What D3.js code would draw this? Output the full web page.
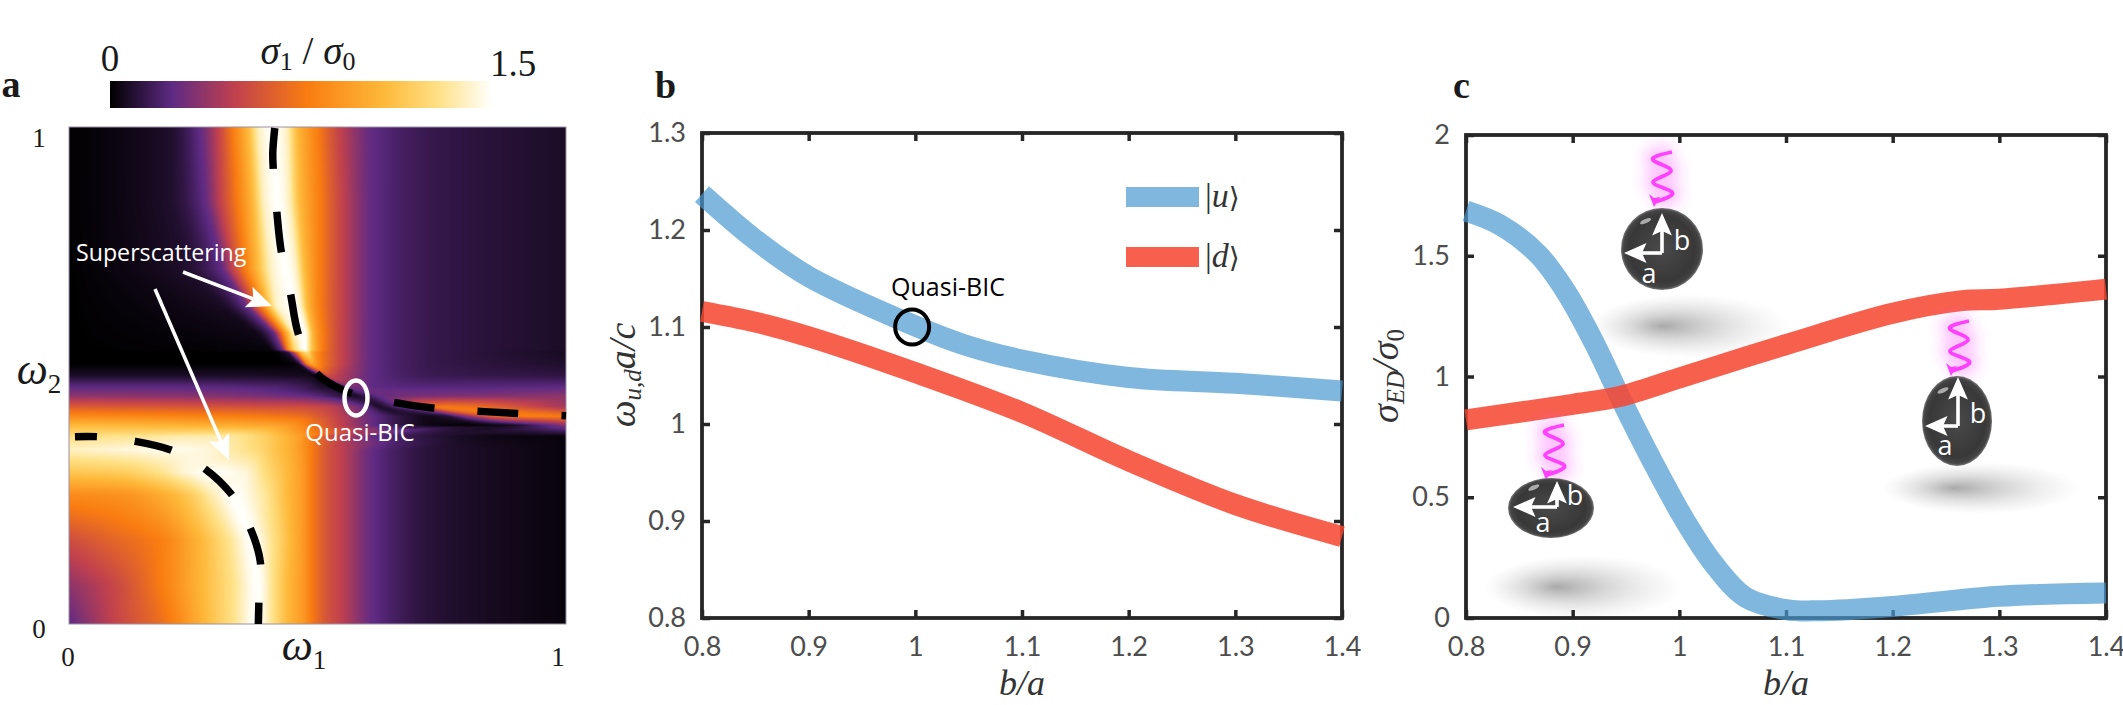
<!DOCTYPE html>
<html lang="en">
<head>
<meta charset="UTF-8">
<title>Quasi-BIC</title>
<script src="https://cdnjs.cloudflare.com/ajax/libs/d3/7.4.4/d3.min.js"></script>
<style>
    html, body { margin: 0; padding: 0; background: #fff; }
    svg { display: block; }
    .tick-text { font-family: Lato, "Open Sans", sans-serif; font-size: 27px; fill: #4d4d4d; }
    .serif { font-family: "Liberation Serif", serif; fill: #1a1a1a; }
    .math { font-family: "Liberation Serif", serif; font-style: italic; fill: #333; }
    .note { font-family: "Open Sans", sans-serif; }
</style>
</head>
<body>
<svg id="chart" width="2123" height="705"></svg>
<script>
// panel a: colour bar
var barDomain = [0, 0.243, 0.49, 0.775, 1.08, 1.29, 1.5];
var barColors = ['#000000', '#5e2a84', '#c0404e', '#f97c10', '#feb93a', '#ffe084', '#fffffb'];

// panel a: map values, row by row.
// each row has 15 knots: position on w1 and value there
var rowW2 = [1, .849, .713, .640, .586, .552, .546, .523, .5, .477, .459, .437, .418, .400, .378, .351, .305, .26, .169, .079, 0];
var knotW1 = [
    [0,.2,.26,.30,.33,.36,.385,.41,.435,.46,.50,.545,.617,.735,1],
    [0,.2,.27,.305,.34,.37,.395,.42,.44,.465,.505,.55,.617,.735,1],
    [0,.23,.305,.33,.355,.38,.41,.437,.455,.475,.505,.55,.617,.735,1],
    [0,.30,.354,.37,.386,.40,.42,.453,.465,.48,.505,.55,.617,.735,1],
    [0,.37,.41,.42,.43,.44,.453,.473,.48,.49,.51,.55,.617,.735,1],
    [0,.40,.427,.434,.44,.448,.457,.475,.483,.492,.51,.55,.617,.735,1],
    [0,.41,.44,.45,.46,.465,.47,.48,.486,.495,.51,.55,.617,.735,1],
    [0,.42,.455,.465,.47,.475,.48,.49,.497,.505,.52,.555,.617,.735,1],
    [0,.3,.48,.49,.497,.503,.51,.515,.52,.525,.53,.555,.617,.735,1],
    [0,.2,.4,.48,.51,.529,.54,.55,.56,.575,.59,.6,.617,.735,1],
    [0,.2,.3,.4,.47,.52,.555,.577,.59,.61,.63,.66,.70,.8,1],
    [0,.2,.3,.4,.47,.52,.56,.60,.624,.656,.68,.704,.72,.74,1],
    [0,.2,.3,.4,.47,.52,.56,.617,.68,.72,.76,.80,.855,.935,1],
    [0,.2,.3,.4,.44,.49,.545,.617,.68,.736,.80,.855,.895,.94,1],
    [0,.15,.25,.30,.35,.41,.44,.47,.49,.52,.545,.617,.735,.87,1],
    [0,.12,.2,.27,.33,.38,.41,.44,.47,.49,.52,.545,.617,.735,1],
    [0,.1,.18,.24,.28,.35,.40,.44,.47,.49,.52,.545,.617,.735,1],
    [0,.1,.18,.24,.29,.33,.39,.44,.47,.49,.52,.545,.617,.735,1],
    [0,.1,.18,.26,.32,.37,.41,.445,.47,.49,.52,.545,.617,.735,1],
    [0,.09,.18,.27,.33,.38,.41,.44,.47,.49,.52,.545,.617,.735,1],
    [0,.09,.195,.275,.33,.378,.41,.44,.47,.49,.52,.545,.617,.735,1]
];
var knotValue = [
    [0,.08,.24,.5,.78,1.08,1.42,1.5,1.42,1.08,.78,.5,.24,.14,.07],
    [0,.08,.24,.5,.78,1.08,1.42,1.5,1.42,1.08,.78,.5,.24,.14,.07],
    [0,.08,.24,.5,.78,1.08,1.42,1.5,1.42,1.08,.78,.5,.24,.14,.07],
    [0,.06,.24,.5,.78,1.08,1.42,1.5,1.42,1.08,.78,.5,.24,.14,.07],
    [0,.04,.24,.5,.78,1.08,1.4,1.5,1.4,1.08,.78,.5,.24,.14,.07],
    [0,.02,.24,.5,.78,1.08,1.3,1.5,1.3,1.08,.78,.5,.24,.14,.07],
    [0,0,.1,.4,.78,1,1.15,1.25,1.1,.9,.74,.5,.24,.14,.06],
    [0,0,.02,.1,.35,.6,.8,.95,.9,.8,.68,.47,.24,.14,.08],
    [.07,.07,.05,.03,.03,.1,.3,.45,.55,.55,.52,.42,.24,.15,.12],
    [.24,.24,.21,.15,.08,.06,.1,.18,.27,.3,.28,.26,.24,.22,.24],
    [.36,.35,.33,.3,.26,.18,.1,.07,.12,.2,.26,.28,.3,.32,.36],
    [.62,.6,.58,.56,.55,.5,.38,.22,.08,.2,.35,.55,.7,.76,.42],
    [.85,.82,.8,.76,.7,.56,.43,.24,.1,.05,.1,.35,.65,.78,.78],
    [1.08,1.05,1.02,.98,.92,.74,.5,.24,.1,.03,.01,.03,.06,.18,.35],
    [1.28,1.32,1.36,1.36,1.3,1.15,1.05,.92,.76,.58,.5,.24,.1,.03,.02],
    [1.4,1.45,1.48,1.45,1.35,1.25,1.15,1.05,.9,.76,.58,.5,.24,.1,.02],
    [1.15,1.18,1.3,1.45,1.5,1.45,1.25,1.08,.92,.76,.58,.5,.24,.1,.02],
    [.85,.88,1.0,1.16,1.38,1.5,1.35,1.08,.92,.76,.58,.5,.24,.1,.02],
    [.55,.68,.78,1.05,1.3,1.5,1.3,1.08,.92,.76,.58,.5,.24,.1,.02],
    [.36,.52,.76,1.08,1.3,1.5,1.3,1.08,.92,.76,.58,.5,.24,.1,.02],
    [.24,.5,.74,1.08,1.3,1.5,1.3,1.08,.92,.76,.58,.5,.24,.1,.02]
];

// panel a: dashed resonance curves
var upperW1 = [.414,.410,.411,.418,.427,.445,.461,.493,.553,.648,.727,.810,.894,1];
var upperW2 = [.998,.948,.916,.831,.750,.668,.585,.510,.470,.447,.435,.429,.424,.419];
var lowerW1 = [.012,.056,.131,.205,.271,.326,.363,.385,.382,.381];
var lowerW2 = [.377,.377,.368,.350,.314,.262,.197,.125,.043,0];

// panel b
var bTicksX = [0.8, 0.9, 1, 1.1, 1.2, 1.3, 1.4];
var bTicksY = [0.8, 0.9, 1, 1.1, 1.2, 1.3];
var bRatio = [0.8, 0.85, 0.9, 1, 1.045, 1.1, 1.2, 1.3, 1.4];
var upperMode = [1.237, 1.19, 1.152, 1.101, 1.082, 1.066, 1.048, 1.042, 1.034];
var dRatio = [0.8, 0.85, 0.9, 1, 1.1, 1.2, 1.3, 1.4];
var lowerMode = [1.116, 1.105, 1.09, 1.053, 1.012, 0.962, 0.917, 0.884];

// panel c
var cTicksX = [0.8, 0.9, 1, 1.1, 1.2, 1.3, 1.4];
var cTicksY = [0, 0.5, 1, 1.5, 2];
var cRatioU = [0.8, 0.833, 0.868, 0.894, 0.92, 0.95, 0.98, 1.006, 1.032, 1.062, 1.1, 1.131, 1.2, 1.3, 1.4];
var sigmaU = [1.685, 1.625, 1.504, 1.349, 1.141, 0.864, 0.605, 0.398, 0.225, 0.086, 0.035, 0.03, 0.048, 0.09, 0.104];
var cRatioD = [0.8, 0.9, 0.943, 1, 1.1, 1.2, 1.265, 1.3, 1.4];
var sigmaD = [0.82, 0.885, 0.916, 0.994, 1.132, 1.262, 1.314, 1.32, 1.362];

var blue = '#4a98d0', red = '#f7442f';
var svg = d3.select('#chart');
var defs = svg.append('defs');

// ---------- panel a ----------
var ax = d3.scaleLinear().domain([0, 1]).range([69, 566]);
var ay = d3.scaleLinear().domain([0, 1]).range([624, 127]);
var color = d3.scaleLinear().domain(barDomain).range(barColors).clamp(true);

// monotone cubic through the knots of one row, keeps the map free of kinks
function rowCurve(us, vs) {
    var n = us.length, s = [], m = [];
    for (var i = 0; i < n - 1; i++) s[i] = (vs[i + 1] - vs[i]) / Math.max(us[i + 1] - us[i], 1e-6);
    m[0] = s[0]; m[n - 1] = s[n - 2];
    for (i = 1; i < n - 1; i++) m[i] = s[i - 1] * s[i] <= 0 ? 0 : 2 * s[i - 1] * s[i] / (s[i - 1] + s[i]);
    return function(u) {
        var k = Math.min(d3.bisectRight(us, u) - 1, n - 2);
        k = Math.max(k, 0);
        var h = Math.max(us[k + 1] - us[k], 1e-6), t = (u - us[k]) / h, t2 = t * t, t3 = t2 * t;
        return (2 * t3 - 3 * t2 + 1) * vs[k] + (t3 - 2 * t2 + t) * h * m[k] + (3 * t2 - 2 * t3) * vs[k + 1] + (t3 - t2) * h * m[k + 1];
    };
}

function drawMap() {
    var w = 497, h = 497;
    var canvas = document.createElement('canvas');
    canvas.width = w; canvas.height = h;
    var ctx = canvas.getContext('2d');
    var img = ctx.createImageData(w, h);
    for (var j = 0; j < h; j++) {
        var w2 = 1 - (j + 0.5) / h;
        var r = 0;
        while (r < rowW2.length - 2 && rowW2[r + 1] > w2) r++;
        var t = (rowW2[r] - w2) / (rowW2[r] - rowW2[r + 1]);
        var us = knotW1[r].map(function(u, k) { return u + (knotW1[r + 1][k] - u) * t; });
        var vs = knotValue[r].map(function(v, k) { return v + (knotValue[r + 1][k] - v) * t; });
        var cell = rowCurve(us, vs);
        for (var i = 0; i < w; i++) {
            var c = d3.rgb(color(cell((i + 0.5) / w)));
            var p = (j * w + i) * 4;
            img.data[p] = c.r; img.data[p + 1] = c.g; img.data[p + 2] = c.b; img.data[p + 3] = 255;
        }
    }
    ctx.putImageData(img, 0, 0);
    return canvas.toDataURL();
}

var pa = svg.append('g');
pa.append('image').attr('x', ax(0)).attr('y', ay(1)).attr('width', ax(1) - ax(0)).attr('height', ay(0) - ay(1))
    .attr('preserveAspectRatio', 'none').attr('href', drawMap());
pa.append('rect').attr('x', ax(0)).attr('y', ay(1)).attr('width', ax(1) - ax(0)).attr('height', ay(0) - ay(1))
    .attr('fill', 'none').attr('stroke', '#9a90a8').attr('stroke-width', 1);

var line = d3.line().curve(d3.curveCatmullRom);
pa.append('path').attr('d', line(upperW1.map(function(d, i) { return [ax(d), ay(upperW2[i])]; })))
    .attr('fill', 'none').attr('stroke', '#000').attr('stroke-width', 7.5).attr('stroke-dasharray', '41 43');
pa.append('path').attr('d', line(lowerW1.map(function(d, i) { return [ax(d), ay(lowerW2[i])]; })))
    .attr('fill', 'none').attr('stroke', '#000').attr('stroke-width', 7.5).attr('stroke-dasharray', '22 38 38 38 38 38 38 38 38');

// colour bar
var barX = d3.scaleLinear().domain([0, 1.5]).range([110, 490]);
pa.selectAll('.bar').data(d3.range(0, 380)).enter().append('rect').attr('class', 'bar')
    .attr('x', function(d) { return 110 + d; }).attr('y', 81).attr('width', 1.5).attr('height', 27)
    .attr('fill', function(d) { return color(barX.invert(110 + d)); });

function serifText(x, y, txt, size, anchor) {
    return svg.append('text').attr('class', 'serif').attr('x', x).attr('y', y).attr('font-size', size)
        .attr('text-anchor', anchor || 'middle').text(txt);
}
serifText(110, 71, '0', 37);
serifText(513, 76, '1.5', 37);
var sigLabel = serifText(308, 64, '', 39);
sigLabel.append('tspan').attr('font-style', 'italic').text('\u03c3');
sigLabel.append('tspan').attr('font-size', 26).attr('dy', 6).text('1');
sigLabel.append('tspan').attr('dy', -6).text(' / ');
sigLabel.append('tspan').attr('font-style', 'italic').text('\u03c3');
sigLabel.append('tspan').attr('font-size', 26).attr('dy', 6).text('0');

serifText(11, 97, 'a', 38).attr('font-weight', 'bold').attr('fill', '#000');
serifText(655, 98, 'b', 38, 'start').attr('font-weight', 'bold').attr('fill', '#000');
serifText(1453, 98, 'c', 38, 'start').attr('font-weight', 'bold').attr('fill', '#000');

serifText(39, 147, '1', 27);
serifText(39, 638, '0', 27);
serifText(68, 666, '0', 27);
serifText(558, 666, '1', 27);
function omega(x, y, sub) {
    var t = serifText(x, y, '', 44);
    t.append('tspan').attr('font-style', 'italic').text('\u03c9');
    t.append('tspan').attr('font-size', 27).attr('dy', 9).text(sub);
}
omega(304, 660, '1');
omega(39, 384, '2');

// white notes on the map
pa.append('text').attr('class', 'note').attr('x', 76).attr('y', 261).attr('font-size', 23.2).attr('fill', '#fff').text('Superscattering');
pa.append('text').attr('class', 'note').attr('x', 360).attr('y', 441).attr('font-size', 24).attr('fill', '#fff').attr('text-anchor', 'middle').text('Quasi-BIC');
pa.append('ellipse').attr('cx', 356).attr('cy', 398).attr('rx', 11.5).attr('ry', 17.5).attr('fill', 'none').attr('stroke', '#fff').attr('stroke-width', 4.5);

function arrow(g, x1, y1, x2, y2, width, head, fill) {
    var a = Math.atan2(y2 - y1, x2 - x1);
    var bx = x2 - Math.cos(a) * head, by = y2 - Math.sin(a) * head;
    g.append('line').attr('x1', x1).attr('y1', y1).attr('x2', bx).attr('y2', by).attr('stroke', fill).attr('stroke-width', width);
    var nx = -Math.sin(a) * head * 0.55, ny = Math.cos(a) * head * 0.55;
    g.append('polygon').attr('fill', fill).attr('points', [
        [x2, y2], [bx - Math.cos(a) * head * 0.25 + nx, by - Math.sin(a) * head * 0.25 + ny],
        [bx, by], [bx - Math.cos(a) * head * 0.25 - nx, by - Math.sin(a) * head * 0.25 - ny]
    ].join(' '));
}
arrow(pa, 183, 272, 272, 306, 3.6, 20, '#fff');
arrow(pa, 155, 289, 229, 460, 3.6, 20, '#fff');

// ---------- shared frame for b and c ----------
function frame(g, x, y, ticksX, ticksY) {
    var fmt = function(d) { return String(d); };
    var b = g.append('g').attr('transform', 'translate(0,' + y.range()[0] + ')')
        .call(d3.axisBottom(x).tickValues(ticksX).tickSizeInner(-8).tickSizeOuter(0).tickPadding(19).tickFormat(fmt));
    var l = g.append('g').attr('transform', 'translate(' + x.range()[0] + ',0)')
        .call(d3.axisLeft(y).tickValues(ticksY).tickSizeInner(-8).tickSizeOuter(0).tickPadding(16).tickFormat(fmt));
    g.append('g').attr('transform', 'translate(0,' + y.range()[1] + ')')
        .call(d3.axisTop(x).tickValues(ticksX).tickSizeInner(-8).tickSizeOuter(0).tickFormat(''));
    g.append('g').attr('transform', 'translate(' + x.range()[1] + ',0)')
        .call(d3.axisRight(y).tickValues(ticksY).tickSizeInner(-8).tickSizeOuter(0).tickFormat(''));
    g.selectAll('.domain').remove();
    g.selectAll('.tick line').attr('stroke', '#262626').attr('stroke-width', 3.5);
    g.selectAll('.tick text').attr('class', 'tick-text').attr('fill', null).attr('font-size', null).attr('font-family', null);
    g.append('rect').attr('x', x.range()[0]).attr('y', y.range()[1])
        .attr('width', x.range()[1] - x.range()[0]).attr('height', y.range()[0] - y.range()[1])
        .attr('fill', 'none').attr('stroke', '#262626').attr('stroke-width', 3.8);
}
function curve(g, x, y, xs, ys, col, op) {
    g.append('path').attr('d', d3.line().curve(d3.curveCatmullRom)(xs.map(function(d, i) { return [x(d), y(ys[i])]; })))
        .attr('fill', 'none').attr('stroke', col).attr('stroke-opacity', op).attr('stroke-width', 21);
}

// ---------- panel b ----------
var bx = d3.scaleLinear().domain([0.8, 1.4]).range([702, 1342]);
var by = d3.scaleLinear().domain([0.8, 1.3]).range([618, 133]);
var pb = svg.append('g');
frame(pb, bx, by, bTicksX, bTicksY);
curve(pb, bx, by, bRatio, upperMode, blue, 0.7);
curve(pb, bx, by, dRatio, lowerMode, red, 0.85);

pb.append('ellipse').attr('cx', bx(0.997)).attr('cy', by(1.1)).attr('rx', 17).attr('ry', 17.5).attr('fill', 'none').attr('stroke', '#000').attr('stroke-width', 4);
pb.append('text').attr('class', 'note').attr('x', 948).attr('y', 296).attr('font-size', 25).attr('fill', '#000').attr('text-anchor', 'middle').text('Quasi-BIC');

var legendNames = ['u', 'd'];
var legendColors = ['#80b7de', '#f8604e'];
legendNames.forEach(function(n, i) {
    var y0 = 187 + i * 60;
    pb.append('rect').attr('x', 1126).attr('y', y0).attr('width', 73).attr('height', 20).attr('fill', legendColors[i]);
    var t = pb.append('text').attr('class', 'math').attr('x', 1205).attr('y', y0 + 20).attr('font-size', 34);
    t.append('tspan').attr('font-style', 'normal').text('|');
    t.append('tspan').text(n);
    t.append('tspan').attr('font-style', 'normal').attr('font-family', 'DejaVu Sans').attr('font-size', 28).text('\u27e9');
});

function xLabel(x) {
    var t = svg.append('text').attr('class', 'math').attr('x', x).attr('y', 695).attr('font-size', 36).attr('text-anchor', 'middle');
    t.text('b/a');
}
xLabel(1022);
xLabel(1786);

var yb = svg.append('text').attr('class', 'math').attr('transform', 'translate(635,375) rotate(-90)').attr('font-size', 38).attr('text-anchor', 'middle');
yb.append('tspan').text('\u03c9');
yb.append('tspan').attr('font-size', 25).attr('dy', 6).text('u,d');
yb.append('tspan').attr('dy', -6).text('a/c');

// ---------- panel c ----------
var cx = d3.scaleLinear().domain([0.8, 1.4]).range([1466, 2106]);
var cy = d3.scaleLinear().domain([0, 2]).range([618, 135]);
var pc = svg.append('g');

var shadow = defs.append('radialGradient').attr('id', 'shadow').attr('fx', '36%').attr('fy', '50%');
shadow.append('stop').attr('offset', '0%').attr('stop-color', '#a0a0a0').attr('stop-opacity', 0.9);
shadow.append('stop').attr('offset', '40%').attr('stop-color', '#b0b0b0').attr('stop-opacity', 0.5);
shadow.append('stop').attr('offset', '100%').attr('stop-color', '#d0d0d0').attr('stop-opacity', 0);
var ball = defs.append('radialGradient').attr('id', 'ball').attr('cx', '50%').attr('cy', '50%').attr('r', '50%');
ball.append('stop').attr('offset', '0%').attr('stop-color', '#4a4a4a');
ball.append('stop').attr('offset', '80%').attr('stop-color', '#383838');
ball.append('stop').attr('offset', '94%').attr('stop-color', '#444');
ball.append('stop').attr('offset', '100%').attr('stop-color', '#777');
var blur = defs.append('filter').attr('id', 'glow').attr('x', '-100%').attr('y', '-30%').attr('width', '300%').attr('height', '160%');
blur.append('feGaussianBlur').attr('stdDeviation', 7);

var shadows = [[1690, 326, 100, 32], [1584, 587, 100, 32], [1982, 488, 100, 26]];
pc.selectAll('.shadow').data(shadows).enter().append('ellipse').attr('class', 'shadow')
    .attr('cx', function(d) { return d[0]; }).attr('cy', function(d) { return d[1]; })
    .attr('rx', function(d) { return d[2]; }).attr('ry', function(d) { return d[3]; })
    .attr('fill', 'url(#shadow)');

frame(pc, cx, cy, cTicksX, cTicksY);
curve(pc, cx, cy, cRatioU, sigmaU, blue, 0.7);
curve(pc, cx, cy, cRatioD, sigmaD, red, 0.85);

var waveDx = [0, -19, -1, -19, 0, -17];
var waveDy = [0, 8, 19, 30, 40, 50];
// cx, cy, rx, ry, origin x, origin y, b tip y, a tip x, b label, a label, wave top
var particles = [
    [1662, 249, 41, 41, 1662, 253, 213, 1624, [1682, 250], [1649, 283], [1672, 152]],
    [1551, 508, 43, 30, 1557, 507, 481, 1513, [1575, 505], [1543, 532], [1564, 425]],
    [1957, 421, 35, 45, 1958, 426, 377, 1925, [1978, 423], [1945, 455], [1969, 321]]
];
particles.forEach(function(p) {
    var g = svg.append('g');
    var pts = waveDx.map(function(d, i) { return [p[10][0] + d, p[10][1] + waveDy[i]]; });
    var wave = d3.line().curve(d3.curveNatural)(pts);
    g.append('path').attr('d', wave).attr('fill', 'none').attr('stroke', '#ff40ff').attr('stroke-opacity', 0.3)
        .attr('stroke-width', 18).attr('filter', 'url(#glow)');
    g.append('path').attr('d', wave).attr('fill', 'none').attr('stroke', '#ff40ff').attr('stroke-width', 3.8);
    var tip = [p[10][0] - 18, p[10][1] + 55];
    g.append('polygon').attr('fill', '#ff40ff').attr('points', [
        [tip[0], tip[1]], [tip[0] - 5, tip[1] - 13], [tip[0], tip[1] - 9], [tip[0] + 6, tip[1] - 10]
    ].join(' '));
    g.append('ellipse').attr('cx', p[0]).attr('cy', p[1]).attr('rx', p[2]).attr('ry', p[3]).attr('fill', 'url(#ball)');
    g.append('ellipse').attr('cx', p[0] - p[2] * 0.4).attr('cy', p[1] - p[3] * 0.68).attr('rx', 6).attr('ry', 2.2)
        .attr('transform', 'rotate(-25,' + (p[0] - p[2] * 0.4) + ',' + (p[1] - p[3] * 0.68) + ')').attr('fill', '#aaa');
    arrow(g, p[4], p[5], p[4], p[6], 3.6, 18, '#fff');
    arrow(g, p[4], p[5], p[7], p[5], 3.6, 18, '#fff');
    g.append('text').attr('class', 'note').attr('x', p[8][0]).attr('y', p[8][1]).attr('font-size', 27).attr('fill', '#fff').attr('text-anchor', 'middle').text('b');
    g.append('text').attr('class', 'note').attr('x', p[9][0]).attr('y', p[9][1]).attr('font-size', 27).attr('fill', '#fff').attr('text-anchor', 'middle').text('a');
});

var yc = svg.append('text').attr('class', 'math').attr('transform', 'translate(1398,376) rotate(-90)').attr('font-size', 38).attr('text-anchor', 'middle');
yc.append('tspan').text('\u03c3');
yc.append('tspan').attr('font-size', 25).attr('dy', 6).text('ED');
yc.append('tspan').attr('dy', -6).text('/\u03c3');
yc.append('tspan').attr('font-size', 25).attr('font-style', 'normal').attr('dy', 6).text('0');
</script>
</body>
</html>
